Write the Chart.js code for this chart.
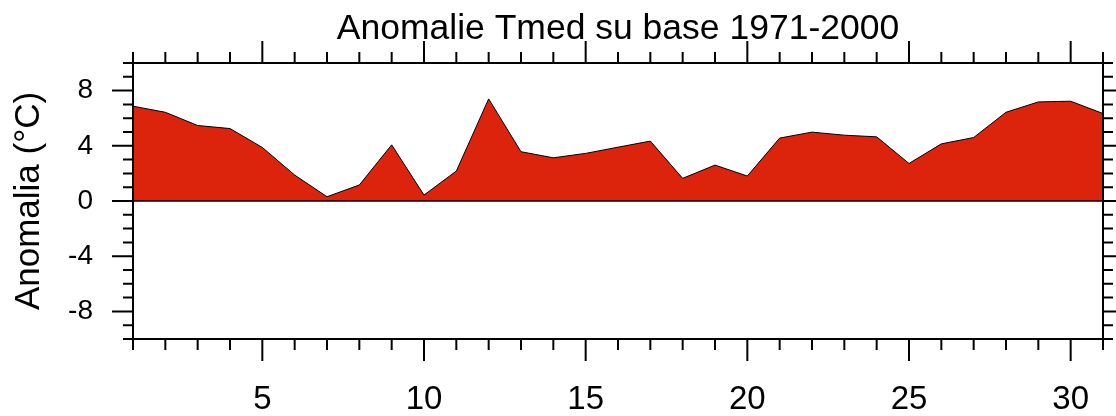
<!DOCTYPE html>
<html>
<head>
<meta charset="utf-8">
<script src="https://cdn.jsdelivr.net/npm/chart.js@4/dist/chart.umd.min.js"></script>
<style>
  html, body { margin: 0; padding: 0; background: #ffffff; }
  #wrap { width: 1116px; height: 416px; position: relative; }
</style>
</head>
<body>
<div id="wrap"><canvas id="c"></canvas></div>
<script>
// ---- data ----
const days = [1, 2, 3, 4, 5, 6, 7, 8, 9, 10, 11, 12, 13, 14, 15, 16, 17, 18, 19, 20, 21, 22, 23, 24, 25, 26, 27, 28, 29, 30, 31];
const anomalies = [6.87, 6.43, 5.47, 5.25, 3.88, 1.88, 0.31, 1.16, 4.07, 0.43, 2.17, 7.40, 3.57, 3.13, 3.45, 3.90, 4.34, 1.64, 2.60, 1.81, 4.56, 4.99, 4.77, 4.65, 2.72, 4.14, 4.60, 6.43, 7.18, 7.23, 6.34];
const xMajorTicks = [5, 10, 15, 20, 25, 30];
const yMajorTicks = [-8, -4, 0, 4, 8];
const chartTitle = 'Anomalie Tmed su base 1971-2000';
const yAxisTitle = 'Anomalia (°C)';

const FONT = "'Liberation Sans', Arial, Helvetica, sans-serif";

const axisDecor = {
  id: 'axisDecor',
  afterDatasetsDraw(chart) {
    const { ctx, chartArea: { left, right, top, bottom }, scales: { x, y } } = chart;
    ctx.save();
    ctx.strokeStyle = '#000';
    // zero reference line
    const y0 = y.getPixelForValue(0);
    ctx.lineWidth = 1.5;
    ctx.beginPath(); ctx.moveTo(left, y0); ctx.lineTo(right, y0); ctx.stroke();
    // frame
    ctx.lineWidth = 2;
    ctx.strokeRect(left, top, right - left, bottom - top);
    ctx.beginPath();
    for (let v = x.min; v <= x.max; v++) {
      const px = x.getPixelForValue(v);
      const len = xMajorTicks.includes(v) ? 22 : 11;
      ctx.moveTo(px, bottom); ctx.lineTo(px, bottom + len);
      ctx.moveTo(px, top); ctx.lineTo(px, top - len);
    }
    for (let v = y.min; v <= y.max; v++) {
      const py = y.getPixelForValue(v);
      const len = yMajorTicks.includes(v) ? 21 : 10;
      ctx.moveTo(left, py); ctx.lineTo(left - len, py);
      ctx.moveTo(right, py); ctx.lineTo(right + len, py);
    }
    ctx.stroke();
    ctx.restore();
  }
};

function noEdgePadding(s) {
  s.paddingLeft = 0; s.paddingRight = 0; s.paddingTop = 0; s.paddingBottom = 0;
}

new Chart(document.getElementById('c'), {
  type: 'line',
  data: {
    datasets: [{
      data: days.map((d, i) => ({ x: d, y: anomalies[i] })),
      borderColor: '#000000',
      borderWidth: 1,
      backgroundColor: '#dc240c',
      fill: 'origin',
      pointRadius: 0,
      tension: 0,
      xAxisID: 'x',
      yAxisID: 'y'
    }]
  },
  options: {
    responsive: true,
    maintainAspectRatio: false,
    animation: false,
    events: [],
    layout: { padding: { left: 0, right: 13, top: 0, bottom: 0 } },
    plugins: { legend: { display: false }, tooltip: { enabled: false }, title: { display: false } },
    scales: {
      x: {
        type: 'linear', position: 'bottom', min: 1, max: 31,
        grid: { display: false, drawTicks: false },
        border: { display: false },
        afterBuildTicks: (s) => { s.ticks = xMajorTicks.map(v => ({ value: v })); },
        afterFit: (s) => { s.height = 77; noEdgePadding(s); },
        ticks: { color: '#000', padding: 41, maxRotation: 0, autoSkip: false, font: { family: FONT, size: 33 } }
      },
      x2: {
        type: 'linear', position: 'top', min: 1, max: 31,
        grid: { display: false, drawTicks: false },
        border: { display: false },
        ticks: { display: false },
        afterFit: (s) => { s.height = 63; noEdgePadding(s); },
        title: { display: true, text: chartTitle, color: '#000', padding: { top: 8, bottom: 0 }, font: { family: FONT, size: 35.5 } }
      },
      y: {
        type: 'linear', position: 'left', min: -10, max: 10,
        grid: { display: false, drawTicks: false },
        border: { display: false },
        afterBuildTicks: (s) => { s.ticks = yMajorTicks.map(v => ({ value: v })); },
        afterFit: (s) => { s.width = 133; noEdgePadding(s); },
        ticks: { color: '#000', padding: 40, autoSkip: false, font: { family: FONT, size: 28 } },
        title: { display: true, text: yAxisTitle, color: '#000', padding: { top: 8, bottom: 0 }, font: { family: FONT, size: 35 } }
      }
    }
  },
  plugins: [axisDecor]
});
</script>
</body>
</html>
